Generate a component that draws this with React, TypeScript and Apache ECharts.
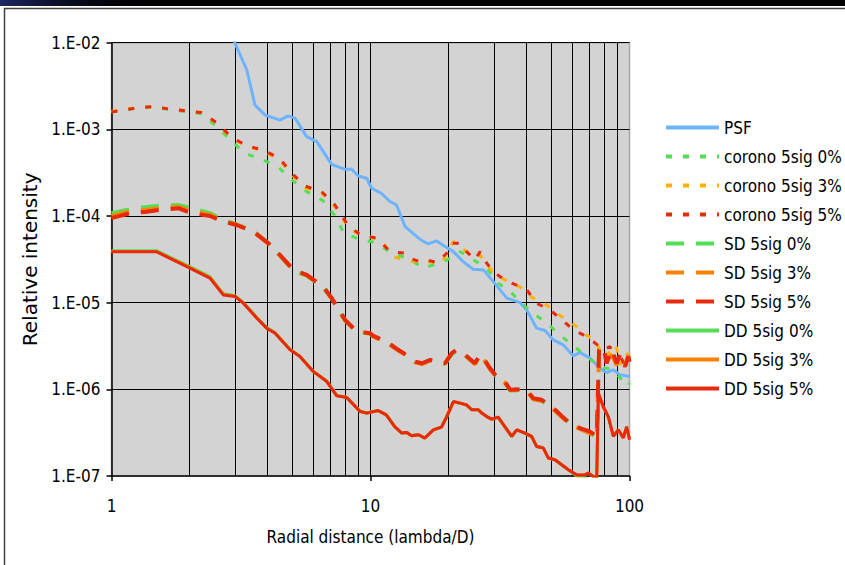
import React, { useEffect, useRef } from 'react';
import * as echarts from 'echarts';

// ---- data: [radial distance (lambda/D), relative intensity] ----
const psf = [
  [2.97, 1.05e-2], [3.33, 4.84e-3], [3.58, 1.91e-3], [3.91, 1.47e-3], [4.47, 1.28e-3], [4.8, 1.43e-3],
  [5.11, 1.35e-3], [5.67, 8.24e-4], [6.2, 7.22e-4], [7.08, 3.95e-4], [7.97, 3.46e-4], [8.46, 3.46e-4],
  [8.97, 2.9e-4], [9.67, 2.73e-4], [10.1, 2.09e-4], [11.0, 1.83e-4], [11.9, 1.47e-4], [12.6, 1.34e-4],
  [13.6, 7.55e-5], [15.5, 5.4e-5], [16.7, 4.76e-5], [18.0, 5.16e-5], [19.4, 4.44e-5], [20.9, 3.88e-5],
  [22.8, 2.98e-5], [24.9, 2.43e-5], [27.3, 2.39e-5], [29.8, 1.75e-5], [33.6, 1.13e-5], [37.8, 1.0e-5],
  [40.1, 8.26e-6], [43.8, 5.08e-6], [47.2, 4.77e-6], [50.8, 3.72e-6], [55.5, 3.26e-6], [60.7, 2.43e-6],
  [64.4, 2.66e-6], [70.4, 2.29e-6], [76.9, 1.75e-6], [81.6, 1.56e-6], [86.6, 1.68e-6], [91.9, 1.47e-6],
  [100, 1.41e-6],
];

const corono0 = [
  [1, 1.59e-3], [1.23, 1.74e-3], [1.43, 1.81e-3], [1.66, 1.7e-3], [1.92, 1.61e-3], [2.23, 1.51e-3],
  [2.55, 1.07e-3], [2.88, 7.55e-4], [3.26, 5.3e-4], [3.78, 4.56e-4], [4.38, 3.72e-4], [4.96, 2.61e-4],
  [5.67, 1.91e-4], [6.54, 1.51e-4], [7.25, 1.03e-4], [7.9, 6.34e-5], [9.05, 5.4e-5], [10.5, 4.93e-5],
  [12.2, 3.66e-5], [14.0, 3.26e-5], [16.0, 2.5e-5], [18.3, 2.86e-5], [19.8, 3.12e-5], [22.2, 3.88e-5],
  [28.1, 2.5e-5], [31.1, 1.68e-5], [35.1, 1.29e-5], [38.9, 9.43e-6], [42.5, 7.57e-6], [47.9, 5.81e-6],
  [53.9, 4.25e-6], [58.9, 3.41e-6], [68.4, 2.39e-6], [76.9, 1.83e-6], [86.6, 1.68e-6], [93.3, 1.29e-6],
  [98.6, 1.08e-6], [100, 1.19e-6],
];

const corono3 = [
  [1, 1.61e-3], [1.23, 1.77e-3], [1.43, 1.84e-3], [1.66, 1.73e-3], [1.92, 1.65e-3], [2.23, 1.57e-3],
  [2.55, 1.17e-3], [2.89, 8.07e-4], [3.33, 6.35e-4], [3.85, 5.64e-4], [4.45, 4.44e-4], [4.97, 2.98e-4],
  [5.58, 2.11e-4], [6.48, 1.85e-4], [7.29, 1.27e-4], [8.33, 6.92e-5], [9.38, 6.05e-5], [11.0, 5.2e-5],
  [12.2, 3.4e-5], [14.4, 2.98e-5], [16.5, 2.98e-5], [18.8, 2.86e-5], [20.9, 5.07e-5], [22.2, 4.52e-5],
  [23.5, 3.85e-5], [26.0, 3.85e-5], [28.1, 2.73e-5], [29.4, 2.33e-5], [31.6, 1.99e-5], [35.1, 1.65e-5],
  [37.8, 1.52e-5], [41.3, 1.18e-5], [47.9, 9.43e-6], [52.4, 7.57e-6], [62.5, 5.3e-6], [68.0, 4.25e-6],
  [74.3, 3.62e-6], [79.0, 2.31e-6], [84.1, 2.7e-6], [88.7, 3.26e-6], [91.9, 1.91e-6], [97.0, 2.7e-6],
  [100, 2.19e-6],
];

const corono5 = [
  [1, 1.59e-3], [1.23, 1.75e-3], [1.43, 1.83e-3], [1.66, 1.72e-3], [1.92, 1.64e-3], [2.23, 1.56e-3],
  [2.55, 1.19e-3], [2.89, 8.24e-4], [3.33, 6.44e-4], [3.85, 5.78e-4], [4.45, 4.64e-4], [4.97, 3.12e-4],
  [5.58, 2.22e-4], [6.48, 1.91e-4], [7.29, 1.34e-4], [8.09, 8.26e-5], [9.11, 6.05e-5], [10.6, 5.55e-5],
  [11.9, 3.88e-5], [13.6, 3.72e-5], [14.2, 3.26e-5], [15.5, 2.98e-5], [16.5, 3.12e-5], [18.0, 2.9e-5],
  [19.7, 3.72e-5], [20.6, 4.85e-5], [22.2, 4.85e-5], [23.5, 3.88e-5], [25.3, 3.12e-5], [26.5, 3.88e-5],
  [28.1, 2.86e-5], [29.4, 2.39e-5], [31.6, 2.0e-5], [35.1, 1.68e-5], [37.8, 1.53e-5], [40.1, 1.41e-5],
  [43.8, 9.86e-6], [49.3, 8.26e-6], [53.9, 6.62e-6], [60.7, 4.86e-6], [66.3, 4.25e-6], [72.5, 3.56e-6],
  [79.2, 2.86e-6], [84.1, 3.12e-6], [89.3, 2.0e-6], [91.9, 2.5e-6], [96.1, 1.83e-6], [99.5, 2.39e-6],
];

const sd0 = [
  [1, 1.08e-4], [1.18, 1.2e-4], [1.37, 1.27e-4], [1.54, 1.32e-4], [1.81, 1.34e-4], [2.04, 1.23e-4],
  [2.4, 1.08e-4], [2.7, 9.02e-5], [3.04, 8.0e-5], [3.53, 6.7e-5], [4.03, 4.9e-5], [4.47, 3.5e-5],
  [5.04, 2.35e-5], [5.67, 2.05e-5], [6.57, 1.5e-5], [7.08, 1.12e-5], [7.97, 6.3e-6], [8.85, 4.6e-6],
  [9.95, 4.4e-6], [10.25, 4.1e-6], [11.5, 3.5e-6], [12.8, 2.83e-6], [13.4, 2.6e-6], [14.9, 2.07e-6],
  [15.8, 1.98e-6], [17.0, 2.15e-6], [19.4, 1.97e-6], [20.6, 2.55e-6], [21.5, 2.8e-6], [22.8, 2.58e-6],
  [25.3, 1.97e-6], [26.5, 2.45e-6], [27.3, 2.25e-6], [28.9, 1.74e-6], [30.3, 1.45e-6], [33.0, 1.2e-6],
  [34.6, 9.7e-7], [37.8, 9.8e-7], [40.1, 9.6e-7], [42.5, 7.8e-7], [45.8, 7.4e-7], [50.8, 6.0e-7],
  [54.7, 4.9e-7], [59.8, 3.85e-7], [64.4, 3.5e-7], [70.4, 3.2e-7], [74.7, 2.8e-7],
];

const sd3 = [
  [1, 1.0e-4], [1.18, 1.13e-4], [1.37, 1.18e-4], [1.54, 1.23e-4], [1.81, 1.27e-4], [2.04, 1.14e-4],
  [2.4, 1.03e-4], [2.7, 8.8e-5], [3.04, 7.95e-5], [3.53, 6.6e-5], [4.03, 4.8e-5], [4.47, 3.5e-5],
  [5.04, 2.37e-5], [5.67, 2.07e-5], [6.57, 1.52e-5], [7.08, 1.12e-5], [7.97, 6.3e-6], [8.85, 4.62e-6],
  [9.95, 4.42e-6], [10.25, 4.05e-6], [11.5, 3.5e-6], [12.8, 2.8e-6], [13.4, 2.6e-6], [14.9, 2.05e-6],
  [15.8, 1.95e-6], [17.0, 2.15e-6], [19.4, 2.0e-6], [20.6, 2.6e-6], [21.5, 2.85e-6], [22.8, 2.6e-6],
  [25.3, 1.95e-6], [26.5, 2.5e-6], [27.3, 2.25e-6], [28.9, 1.72e-6], [30.3, 1.44e-6], [33.0, 1.2e-6],
  [34.6, 9.9e-7], [37.8, 9.7e-7], [40.1, 9.6e-7], [42.5, 7.7e-7], [45.8, 7.4e-7], [50.8, 5.9e-7],
  [54.7, 4.8e-7], [59.8, 3.8e-7], [64.4, 3.5e-7], [70.4, 3.1e-7], [74.7, 2.7e-7], [76.3, 2.6e-6],
  [79.2, 2.5e-6], [81.6, 2.2e-6], [85.3, 2.5e-6], [89.3, 1.9e-6], [91.9, 2.2e-6], [96.1, 1.9e-6],
  [99.0, 2.5e-6], [100, 1.8e-6],
];

const sd5 = [
  [1, 9.44e-5], [1.18, 1.08e-4], [1.37, 1.12e-4], [1.54, 1.18e-4], [1.81, 1.23e-4], [2.04, 1.08e-4],
  [2.4, 1.0e-4], [2.7, 8.61e-5], [3.04, 7.88e-5], [3.53, 6.6e-5], [4.03, 4.85e-5], [4.47, 3.56e-5],
  [5.04, 2.39e-5], [5.67, 2.09e-5], [6.57, 1.53e-5], [7.08, 1.13e-5], [7.97, 6.34e-6], [8.85, 4.65e-6],
  [9.95, 4.45e-6], [10.25, 4.14e-6], [11.5, 3.56e-6], [12.8, 2.86e-6], [13.4, 2.62e-6], [14.9, 2.09e-6],
  [15.8, 2.0e-6], [17.0, 2.19e-6], [19.4, 2.0e-6], [20.6, 2.62e-6], [21.5, 2.86e-6], [22.8, 2.62e-6],
  [25.3, 2.0e-6], [26.5, 2.5e-6], [27.3, 2.29e-6], [28.9, 1.76e-6], [30.3, 1.47e-6], [33.0, 1.23e-6],
  [34.6, 9.86e-7], [37.8, 1.0e-6], [40.1, 9.86e-7], [42.5, 7.91e-7], [45.8, 7.57e-7], [50.8, 6.07e-7],
  [54.7, 4.94e-7], [59.8, 3.9e-7], [64.4, 3.57e-7], [70.4, 3.26e-7], [74.7, 2.86e-7], [76.3, 2.86e-6],
  [79.2, 3.12e-6], [81.6, 2.0e-6], [85.3, 2.86e-6], [89.3, 2.0e-6], [91.9, 2.5e-6], [96.1, 1.83e-6],
  [99.0, 2.39e-6], [100, 2.07e-6],
];

const dd0 = [
  [1, 3.98e-5], [1.49, 3.98e-5], [1.98, 2.66e-5], [2.4, 2.0e-5], [2.7, 1.27e-5], [3.0, 1.2e-5],
  [3.23, 1.0e-5], [3.64, 6.8e-6], [3.97, 5.2e-6], [4.28, 4.5e-6], [4.89, 2.9e-6], [5.34, 2.4e-6],
  [6.02, 1.62e-6], [6.78, 1.25e-6], [7.41, 8.5e-7], [8.09, 8.1e-7], [9.11, 5.6e-7], [9.67, 5.35e-7],
  [10.7, 5.7e-7], [11.5, 5.1e-7], [12.4, 3.75e-7], [13.2, 3.15e-7], [13.8, 3.2e-7], [14.4, 2.93e-7],
  [15.3, 3.0e-7], [16.2, 2.76e-7], [17.5, 3.42e-7], [18.8, 3.68e-7], [19.7, 4.9e-7], [20.9, 7.2e-7],
  [22.2, 6.9e-7], [23.5, 6.6e-7], [24.6, 5.8e-7], [26.1, 5.8e-7], [26.9, 5.3e-7], [28.1, 4.85e-7],
  [29.4, 4.5e-7], [31.1, 4.75e-7], [33.0, 3.7e-7], [35.1, 2.85e-7], [36.7, 3.4e-7], [39.5, 3.1e-7],
  [41.9, 2.85e-7], [43.8, 2.2e-7], [46.5, 2.1e-7], [48.6, 1.62e-7], [51.5, 1.55e-7], [54.7, 1.35e-7],
  [58.1, 1.17e-7], [62.5, 1.0e-7], [67.3, 9.5e-8], [72.5, 8.5e-8],
];

const dd3 = [
  [1, 3.9e-5], [1.49, 3.9e-5], [1.98, 2.6e-5], [2.4, 1.95e-5], [2.7, 1.25e-5], [3.0, 1.19e-5],
  [3.23, 9.9e-6], [3.64, 6.7e-6], [3.97, 5.1e-6], [4.28, 4.5e-6], [4.89, 2.88e-6], [5.34, 2.4e-6],
  [6.02, 1.61e-6], [6.78, 1.24e-6], [7.41, 8.5e-7], [8.09, 8.1e-7], [9.11, 5.6e-7], [9.67, 5.3e-7],
  [10.7, 5.7e-7], [11.5, 5.1e-7], [12.4, 3.72e-7], [13.2, 3.13e-7], [13.8, 3.18e-7], [14.4, 2.92e-7],
  [15.3, 3.0e-7], [16.2, 2.75e-7], [17.5, 3.4e-7], [18.8, 3.66e-7], [19.7, 4.85e-7], [20.9, 7.2e-7],
  [22.2, 6.9e-7], [23.5, 6.6e-7], [24.6, 5.8e-7], [26.1, 5.8e-7], [26.9, 5.3e-7], [28.1, 4.85e-7],
  [29.4, 4.5e-7], [31.1, 4.78e-7], [33.0, 3.72e-7], [35.1, 2.86e-7], [36.7, 3.4e-7], [39.5, 3.12e-7],
  [41.9, 2.86e-7], [43.8, 2.2e-7], [46.5, 2.1e-7], [48.6, 1.61e-7], [51.5, 1.54e-7], [54.7, 1.35e-7],
  [58.1, 1.18e-7], [62.5, 1.03e-7], [67.3, 1.03e-7], [69.3, 1.08e-7], [72.5, 9.9e-8], [74.7, 9.0e-8],
  [75.8, 8.9e-7], [79.2, 6.2e-7], [82.8, 4.8e-7], [86.6, 2.9e-7], [90.5, 3.4e-7], [94.6, 2.8e-7],
  [97.5, 3.6e-7], [100, 2.7e-7],
];

const dd5 = [
  [1, 3.88e-5], [1.49, 3.88e-5], [1.98, 2.56e-5], [2.4, 1.92e-5], [2.7, 1.23e-5], [3.0, 1.18e-5],
  [3.23, 9.86e-6], [3.64, 6.62e-6], [3.97, 5.08e-6], [4.28, 4.45e-6], [4.89, 2.86e-6], [5.34, 2.39e-6],
  [6.02, 1.6e-6], [6.78, 1.23e-6], [7.41, 8.41e-7], [8.09, 8.04e-7], [9.11, 5.55e-7], [9.67, 5.32e-7],
  [10.7, 5.69e-7], [11.5, 5.08e-7], [12.4, 3.72e-7], [13.2, 3.13e-7], [13.8, 3.18e-7], [14.4, 2.91e-7],
  [15.3, 2.99e-7], [16.2, 2.74e-7], [17.5, 3.41e-7], [18.8, 3.66e-7], [19.7, 4.85e-7], [20.9, 7.23e-7],
  [22.2, 6.93e-7], [23.5, 6.62e-7], [24.6, 5.81e-7], [26.1, 5.81e-7], [26.9, 5.32e-7], [28.1, 4.85e-7],
  [29.4, 4.53e-7], [31.1, 4.78e-7], [33.0, 3.72e-7], [35.1, 2.86e-7], [36.7, 3.41e-7], [39.5, 3.13e-7],
  [41.9, 2.86e-7], [43.8, 2.19e-7], [46.5, 2.1e-7], [48.6, 1.61e-7], [51.5, 1.54e-7], [54.7, 1.35e-7],
  [58.1, 1.18e-7], [62.5, 1.03e-7], [67.3, 1.03e-7], [69.3, 1.08e-7], [72.5, 9.86e-8], [74.7, 9.0e-8],
  [75.8, 9.04e-7], [79.2, 6.34e-7], [82.8, 4.85e-7], [86.6, 2.86e-7], [90.5, 3.41e-7], [94.6, 2.74e-7],
  [97.5, 3.72e-7], [100, 2.62e-7],
];

const minorX = [2, 3, 4, 5, 6, 7, 8, 9, 20, 30, 40, 50, 60, 70, 80, 90];

const seriesNames = [
  'PSF', 'corono 5sig 0%', 'corono 5sig 3%', 'corono 5sig 5%',
  'SD 5sig 0%', 'SD 5sig 3%', 'SD 5sig 5%',
  'DD 5sig 0%', 'DD 5sig 3%', 'DD 5sig 5%',
];

const BLUE = '#6cb4ff';
const GREEN = '#55dd55';
const AMBER = '#ffb000';
const ORANGE = '#ff8000';
const RED = '#e82a0c';

const FONT_C = '"DejaVu Sans Condensed", "DejaVu Sans", sans-serif';

export default function App() {
  const ref = useRef<HTMLDivElement>(null);

  useEffect(() => {
    const chart = echarts.init(ref.current!, null, { renderer: 'svg' });

    const mk = (name: string, data: number[][], color: string, width: number, type: any, extra: any = {}) => ({
      name,
      type: 'line',
      data,
      symbol: 'none',
      showSymbol: false,
      clip: true,
      lineStyle: { color, width, type },
      itemStyle: { color },
      emphasis: { disabled: true },
      ...extra,
    });

    const DOT = [6, 11];
    const DASH = [18, 12];

    chart.setOption({
      animation: false,
      backgroundColor: '#ffffff',
      grid: {
        left: 111.5,
        top: 42.7,
        right: 215.5,
        bottom: 89,
        show: true,
        backgroundColor: '#d3d3d3',
        borderColor: '#a6a6a6',
        borderWidth: 1.5,
      },
      legend: {
        orient: 'vertical',
        left: 664,
        top: 119,
        padding: 0,
        data: seriesNames,
        itemWidth: 53,
        itemHeight: 14,
        itemGap: 12,
        selectedMode: false,
        itemStyle: { opacity: 0 },
        lineStyle: { width: 4 },
        textStyle: { fontSize: 17, fontFamily: FONT_C, color: '#000' },
      },
      xAxis: {
        type: 'log',
        logBase: 10,
        min: 1,
        max: 100,
        name: 'Radial distance (lambda/D)',
        nameLocation: 'middle',
        nameGap: 52,
        nameTextStyle: { fontSize: 17, fontFamily: FONT_C, color: '#000' },
        axisLine: { show: true, onZero: false, lineStyle: { color: '#000', width: 1.5 } },
        axisTick: { show: true, inside: false, length: 5, lineStyle: { color: '#000', width: 1.5 } },
        axisLabel: { margin: 21, fontSize: 17, fontFamily: FONT_C, color: '#000' },
        splitLine: { show: true, showMinLine: false, showMaxLine: false, lineStyle: { color: '#000', width: 1 } },
        minorTick: { show: false },
      },
      yAxis: {
        type: 'log',
        logBase: 10,
        min: 1e-7,
        max: 1e-2,
        name: 'Relative intensity',
        nameLocation: 'middle',
        nameGap: 64,
        nameTextStyle: { fontSize: 20, fontFamily: '"DejaVu Sans", sans-serif', color: '#000' },
        axisLine: { show: true, onZero: false, lineStyle: { color: '#000', width: 1.5 } },
        axisTick: { show: true, inside: false, length: 5, lineStyle: { color: '#000', width: 1.5 } },
        axisLabel: {
          margin: 11,
          fontSize: 17,
          fontFamily: FONT_C,
          color: '#000',
          formatter: (v: number) => '1.E-0' + Math.round(-Math.log10(v)),
        },
        splitLine: { show: true, showMinLine: false, showMaxLine: false, lineStyle: { color: '#000', width: 1 } },
      },
      graphic: [
        { type: 'rect', shape: { x: 0, y: 0, width: 845, height: 6 }, style: { fill: '#000' }, silent: true },
        {
          type: 'rect',
          shape: { x: 0, y: 0, width: 160, height: 6 },
          style: {
            fill: new echarts.graphic.LinearGradient(0, 0, 1, 0, [
              { offset: 0, color: 'rgba(35,45,120,0.85)' },
              { offset: 1, color: 'rgba(0,0,0,0)' },
            ]),
          },
          silent: true,
        },
        {
          type: 'rect',
          shape: { x: 4.5, y: 8.5, width: 900, height: 700 },
          style: { fill: 'none', stroke: '#404040', lineWidth: 1.5 },
          silent: true,
        },
      ],
      series: [
        mk('PSF', psf, BLUE, 3, 'solid', {
          markLine: {
            silent: true,
            z: 1,
            symbol: ['none', 'none'],
            label: { show: false },
            emphasis: { disabled: true },
            lineStyle: { color: '#000', width: 1, type: 'solid' },
            data: minorX.map((v) => ({ xAxis: v })),
          },
        }),
        mk('corono 5sig 0%', corono0, GREEN, 3, DOT),
        mk('corono 5sig 3%', corono3, AMBER, 3, DOT),
        mk('corono 5sig 5%', corono5, RED, 3, DOT),
        mk('SD 5sig 0%', sd0, GREEN, 4, DASH),
        mk('SD 5sig 3%', sd3, ORANGE, 4, DASH),
        mk('SD 5sig 5%', sd5, RED, 4, DASH),
        mk('DD 5sig 0%', dd0, GREEN, 3, 'solid'),
        mk('DD 5sig 3%', dd3, ORANGE, 3, 'solid'),
        mk('DD 5sig 5%', dd5, RED, 3, 'solid'),
      ],
    });

    return () => chart.dispose();
  }, []);

  return (
    <div
      ref={ref}
      style={{ position: 'absolute', left: 0, top: 0, width: 845, height: 565, background: '#fff' }}
    />
  );
}
